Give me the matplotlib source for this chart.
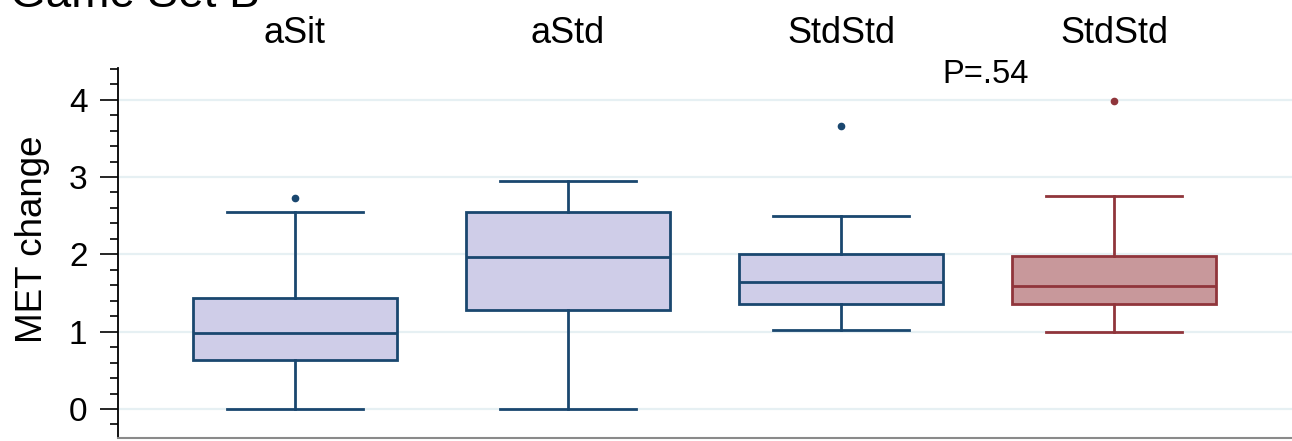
import matplotlib
matplotlib.use("Agg")
import matplotlib.pyplot as plt
from matplotlib.ticker import MultipleLocator

plt.rcParams['font.family'] = ['Liberation Sans', 'DejaVu Sans']

# ---- data ----
panel_labels = ["aSit", "aStd", "StdStd", "StdStd"]
whisker_low = [0.00, 0.00, 1.02, 0.99]
q1 = [0.63, 1.28, 1.36, 1.355]
median = [0.98, 1.97, 1.64, 1.59]
q3 = [1.44, 2.55, 2.01, 1.98]
whisker_high = [2.55, 2.95, 2.50, 2.76]
outliers = [[2.73], [], [3.66], [3.98]]
p_text = "P=.54"
title = "Game Set B"
ylabel = "MET change"
yticks = [0, 1, 2, 3, 4]

edge_colors = ["#1a476f", "#1a476f", "#1a476f", "#90353b"]
face_colors = ["#cfcde8", "#cfcde8", "#cfcde8", "#c8989b"]

W, H = 1292, 441
fig = plt.figure(figsize=(W / 100, H / 100), dpi=100)
ax = fig.add_axes([118 / W, 3 / H, (W - 118) / W, (438 - 68) / H])

positions = list(range(len(panel_labels)))
for i, pos in enumerate(positions):
    stats = [dict(med=median[i], q1=q1[i], q3=q3[i],
                  whislo=whisker_low[i], whishi=whisker_high[i],
                  fliers=outliers[i], label=panel_labels[i])]
    ec = edge_colors[i]
    ax.bxp(stats, positions=[pos], widths=0.747, capwidths=0.50,
           patch_artist=True, showfliers=True,
           boxprops=dict(facecolor=face_colors[i], edgecolor=ec, linewidth=2.0),
           medianprops=dict(color=ec, linewidth=2.0),
           whiskerprops=dict(color=ec, linewidth=2.0),
           capprops=dict(color=ec, linewidth=2.0),
           flierprops=dict(marker='o', markerfacecolor=ec, markeredgecolor=ec,
                           markersize=4.5, linestyle='none'),
           zorder=3)

ax.set_xlim(-0.648, 3.652)
ax.set_ylim(-0.375, 4.41)
ax.set_xticks([])
ax.set_yticks(yticks)
ax.yaxis.set_minor_locator(MultipleLocator(0.2))
ax.tick_params(axis='y', which='major', length=13, width=1.2, labelsize=24, pad=9)
ax.tick_params(axis='y', which='minor', length=6, width=1.2)
ax.grid(axis='y', which='major', color='#e6f0f3', linewidth=1.6, zorder=0)
ax.set_axisbelow(True)
ax.spines['top'].set_visible(False)
ax.spines['right'].set_visible(False)
ax.spines['left'].set_linewidth(1.3)
ax.spines['bottom'].set_color('#8a8a8a')
ax.spines['bottom'].set_linewidth(1.5)
ax.set_ylabel(ylabel, fontsize=26.5)
ax.yaxis.set_label_coords(-0.058, 0.538)

for pos, lab in zip(positions, panel_labels):
    ax.text(pos, 1.0676, lab, transform=ax.get_xaxis_transform(),
            ha='center', va='baseline', fontsize=26)

ax.text(2.37, 4.22, p_text, ha='left', va='baseline', fontsize=23.5)

fig.text(10 / W, (H - 7) / H, title, ha='left', va='baseline', fontsize=33)

fig.savefig("out.png", dpi=100)
